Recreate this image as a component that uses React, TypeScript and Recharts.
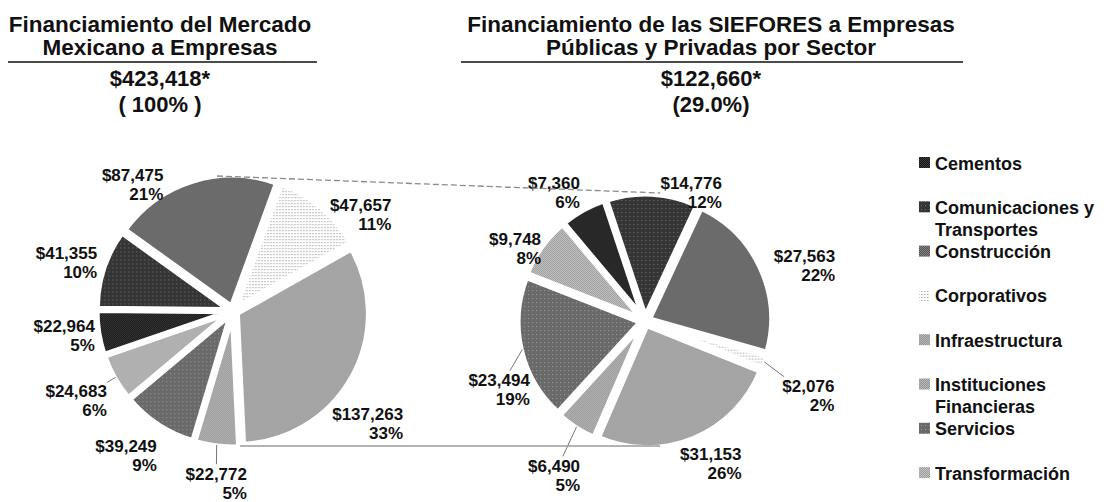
import React from 'react';
import { PieChart, Pie, Cell } from 'recharts';

const sectors = [
  'Cementos',
  'Comunicaciones y Transportes',
  'Construcción',
  'Corporativos',
  'Infraestructura',
  'Instituciones Financieras',
  'Servicios',
  'Transformación',
];
const mercadoValues = [22964, 41355, 87475, 47657, 137263, 22772, 39249, 24683];
const mercadoPct = ['5%', '10%', '21%', '11%', '33%', '5%', '9%', '6%'];
const sieforesValues = [7360, 14776, 27563, 2076, 31153, 6490, 23494, 9748];
const sieforesPct = ['6%', '12%', '22%', '2%', '26%', '5%', '19%', '8%'];
const mercadoTitle = ['Financiamiento del Mercado', 'Mexicano a Empresas'];
const mercadoTotal = ['$423,418*', '( 100% )'];
const sieforesTitle = ['Financiamiento de las SIEFORES a Empresas', 'Públicas y Privadas por Sector'];
const sieforesTotal = ['$122,660*', '(29.0%)'];

// labels that Excel drew with a short leader line
const mercadoLeaders = [5, 7];
const sieforesLeaders = [3, 5, 6];

// Excel moved some labels off the plain radial spot; small nudges (px)
const mercadoNudge = [[0, -3], [-4, 4], [-50, 36], [17, 33], [-15, 29], [4, 2], [-13, 1], [-8, 5]];
const sieforesNudge = [[-13, 11], [37, 31], [14, 11], [12, 22], [5, -6], [-4, 20], [10, 32], [0, 20]];

const FONT = "'Liberation Sans', Arial, Helvetica, sans-serif";

// grey fill textures, one per sector
const patterns = [
  { base: '#151515', dot: '#3c3c3c', kind: 'checker' },
  { base: '#353535', dot: '#737373', kind: 'dots' },
  { base: '#565656', dot: '#808080', kind: 'checker' },
  { base: '#ffffff', dot: '#a8a8a8', kind: 'sparse' },
  { base: '#959595', dot: '#b4b4b4', kind: 'checker' },
  { base: '#929292', dot: '#bcbcbc', kind: 'checker' },
  { base: '#6a6a6a', dot: '#9c9c9c', kind: 'dots' },
  { base: '#9c9c9c', dot: '#c4c4c4', kind: 'checker' },
];

const money = (v: number) => '$' + v.toLocaleString('en-US');
const digitsWidth = (s: string, fs: number) =>
  [...s].reduce((w, ch) => w + (ch === ',' ? 0.278 : 0.556), 0) * fs;

const EXPLODE = 5;

const explode = (values: number[], startAngle: number, dist: number) => {
  const total = values.reduce((a, b) => a + b, 0);
  let acc = 0;
  return values.map((v) => {
    const mid = startAngle - ((acc + v / 2) / total) * 360;
    acc += v;
    const rad = (mid * Math.PI) / 180;
    return `translate(${(dist * Math.cos(rad)).toFixed(2)}, ${(-dist * Math.sin(rad)).toFixed(2)})`;
  });
};

const makeLabel = (pct: string[], gap: number, nudge: number[][], leaders: number[]) => (p: any) => {
  const rad = (-p.midAngle * Math.PI) / 180;
  const r = p.outerRadius + gap;
  const [nx, ny] = nudge[p.index];
  const x = p.cx + r * Math.cos(rad) + nx;
  const y = p.cy + r * Math.sin(rad) + ny;
  const m = money(p.value);
  const hw = digitsWidth(m, 17) / 2;
  const hh = 17;
  const right = x + hw;
  let leader = null;
  if (leaders.includes(p.index)) {
    const re = p.outerRadius + EXPLODE - 1;
    const ex = p.cx + re * Math.cos(rad);
    const ey = p.cy + re * Math.sin(rad);
    const dx = ex - x;
    const dy = ey - y;
    const t = Math.min(hw / Math.abs(dx || 1e-6), hh / Math.abs(dy || 1e-6)) + 0.04;
    leader = <line x1={x + dx * t} y1={y + dy * t} x2={ex} y2={ey} stroke="#777" strokeWidth={1} />;
  }
  return (
    <g key={`lbl-${p.index}`}>
      {leader}
      <text textAnchor="end" fontFamily={FONT} fontSize={17} fontWeight="bold" fill="#111">
        <tspan x={right} y={y - 3}>{m}</tspan>
        <tspan x={right} y={y + 16}>{pct[p.index]}</tspan>
      </text>
    </g>
  );
};

const wrap = (s: string) => {
  if (s.length <= 16) return [s];
  const cut = s.lastIndexOf(' ', 16);
  return [s.slice(0, cut), s.slice(cut + 1)];
};

const mercadoData = sectors.map((name, i) => ({ name, value: mercadoValues[i] }));
const sieforesData = sectors.map((name, i) => ({ name, value: sieforesValues[i] }));

const LEFT_START = 199;
const RIGHT_START = 130;
const mercadoShift = explode(mercadoValues, LEFT_START, EXPLODE);
const sieforesShift = explode(sieforesValues, RIGHT_START, EXPLODE);

const TitleBlock = ({ cx, title, total }: { cx: number; title: string[]; total: string[] }) => (
  <g fontFamily={FONT} fontWeight="bold" fill="#111" textAnchor="middle">
    <text x={cx} y={32} fontSize={22.5}>{title[0]}</text>
    <text x={cx} y={55} fontSize={22.5}>{title[1]}</text>
    <text x={cx} y={86} fontSize={22}>{total[0]}</text>
    <text x={cx} y={112} fontSize={22}>{total[1]}</text>
  </g>
);

export default function App() {
  return (
    <div style={{ position: 'fixed', left: 0, top: 0, width: 1104, height: 502, background: '#fff' }}>
      <svg width={0} height={0} style={{ position: 'absolute' }}>
        <defs>
          {patterns.map((p, i) =>
            p.kind === 'checker' ? (
              <pattern key={i} id={`pt${i}`} width={2} height={2} patternUnits="userSpaceOnUse">
                <rect width={2} height={2} fill={p.base} />
                <rect width={1} height={1} fill={p.dot} />
                <rect x={1} y={1} width={1} height={1} fill={p.dot} />
              </pattern>
            ) : p.kind === 'dots' ? (
              <pattern key={i} id={`pt${i}`} width={4} height={4} patternUnits="userSpaceOnUse">
                <rect width={4} height={4} fill={p.base} />
                <rect x={1} y={1} width={1} height={1} fill={p.dot} />
              </pattern>
            ) : (
              <pattern key={i} id={`pt${i}`} width={3} height={3} patternUnits="userSpaceOnUse">
                <rect width={3} height={3} fill={p.base} />
                <rect width={1} height={1} fill={p.dot} />
                <rect x={1} width={1} height={1} fill="#d0d0d0" />
              </pattern>
            )
          )}
        </defs>
      </svg>

      <div style={{ position: 'absolute', left: 0, top: 0 }}>
        <PieChart width={1104} height={502} margin={{ top: 0, right: 0, bottom: 0, left: 0 }}>
          <Pie
            data={mercadoData}
            dataKey="value"
            nameKey="name"
            cx={233}
            cy={311}
            outerRadius={131}
            startAngle={LEFT_START}
            endAngle={LEFT_START - 360}
            stroke="#fff"
            strokeWidth={5}
            label={makeLabel(mercadoPct, 40, mercadoNudge, mercadoLeaders)}
            labelLine={false}
            isAnimationActive={false}
          >
            {mercadoData.map((d, i) => (
              <Cell key={d.name} fill={`url(#pt${i})`} transform={mercadoShift[i]} />
            ))}
          </Pie>
          <Pie
            data={sieforesData}
            dataKey="value"
            nameKey="name"
            cx={645}
            cy={321}
            outerRadius={122}
            startAngle={RIGHT_START}
            endAngle={RIGHT_START - 360}
            stroke="#fff"
            strokeWidth={5}
            label={makeLabel(sieforesPct, 38, sieforesNudge, sieforesLeaders)}
            labelLine={false}
            isAnimationActive={false}
          >
            {sieforesData.map((d, i) => (
              <Cell key={d.name} fill={`url(#pt${i})`} transform={sieforesShift[i]} />
            ))}
          </Pie>
        </PieChart>
      </div>

      <svg width={1104} height={502} style={{ position: 'absolute', left: 0, top: 0, pointerEvents: 'none' }}>
        <TitleBlock cx={160} title={mercadoTitle} total={mercadoTotal} />
        <TitleBlock cx={711} title={sieforesTitle} total={sieforesTotal} />
        <line x1={8} y1={62} x2={317} y2={62} stroke="#111" strokeWidth={1.5} />
        <line x1={461} y1={62} x2={963} y2={62} stroke="#111" strokeWidth={1.5} />

        <line x1={217} y1={176} x2={660} y2={193} stroke="#8a8a8a" strokeWidth={1.3} strokeDasharray="6 3" />
        <line x1={240} y1={446} x2={660} y2={446} stroke="#9a9a9a" strokeWidth={1.5} />

        <g fontFamily={FONT} fontWeight="bold" fontSize={18} fill="#111">
          {sectors.map((s, i) => {
            const y = 163 + i * 44.3;
            const lines = wrap(s);
            return (
              <g key={s}>
                <rect x={919} y={y - 6} width={11} height={11} fill={`url(#pt${i})`} />
                {lines.map((t, j) => (
                  <text key={t} x={935} y={y + 6.5 + j * 22}>{t}</text>
                ))}
              </g>
            );
          })}
        </g>
      </svg>
    </div>
  );
}
